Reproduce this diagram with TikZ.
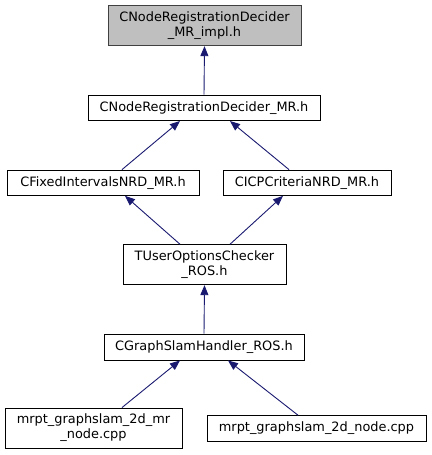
\documentclass[tikz,border=0pt]{standalone}
\usepackage{fontspec}
\setmainfont{DejaVu Sans}
\usetikzlibrary{arrows.meta}
\definecolor{edgeblue}{HTML}{191970}
\definecolor{rootfill}{HTML}{BFBFBF}
\definecolor{rootline}{HTML}{404040}
\tikzset{
  box/.style={draw=black, line width=0.9pt, fill=white, rectangle, align=center,
    inner sep=0pt, font=\fontsize{12.9}{15}\selectfont, text=black},
  rootbox/.style={box, draw=rootline, fill=rootfill},
  arr/.style={draw=edgeblue, line width=0.9pt, -{Triangle[length=10pt,width=8pt]}}
}
\begin{document}
\begin{tikzpicture}[x=1pt,y=-1pt]
\useasboundingbox (0,0) rectangle (431,455);
\node[rootbox, minimum width=193pt, minimum height=40pt] (n1) at (204.5,25.7) {CNodeRegistrationDecider\\\_MR\_impl.h};
\node[box, minimum width=232pt, minimum height=25.5pt] (n2) at (204,107.8) {CNodeRegistrationDecider\_MR.h};
\node[box, minimum width=192pt, minimum height=25.3pt] (n3) at (103,182.7) {CFixedIntervalsNRD\_MR.h};
\node[box, minimum width=168pt, minimum height=25.3pt] (n4) at (307,182.7) {CICPCriteriaNRD\_MR.h};
\node[box, minimum width=163pt, minimum height=40pt] (n5) at (204.5,264.7) {TUserOptionsChecker\\\_ROS.h};
\node[box, minimum width=200pt, minimum height=26pt] (n6) at (204,347) {CGraphSlamHandler\_ROS.h};
\node[box, minimum width=177pt, minimum height=40pt] (n7) at (93.5,428) {mrpt\_graphslam\_2d\_mr\\\_node.cpp};
\node[box, minimum width=219pt, minimum height=25.3pt] (n8) at (316.5,428.3) {mrpt\_graphslam\_2d\_node.cpp};

\draw[arr] (n2.north) -- (n1.south);
\draw[arr] ([xshift=19pt]n3.north) -- ([xshift=-24pt]n2.south);
\draw[arr] ([xshift=-18pt]n4.north) -- ([xshift=26pt]n2.south);
\draw[arr] ([xshift=-24.5pt]n5.north) -- ([xshift=22pt]n3.south);
\draw[arr] ([xshift=25.5pt]n5.north) -- ([xshift=-24pt]n4.south);
\draw[arr] (n6.north) -- (n5.south);
\draw[arr] ([xshift=28.5pt]n7.north) -- ([xshift=-24pt]n6.south);
\draw[arr] ([xshift=-18.5pt]n8.north) -- ([xshift=24pt]n6.south);
\end{tikzpicture}
\end{document}
